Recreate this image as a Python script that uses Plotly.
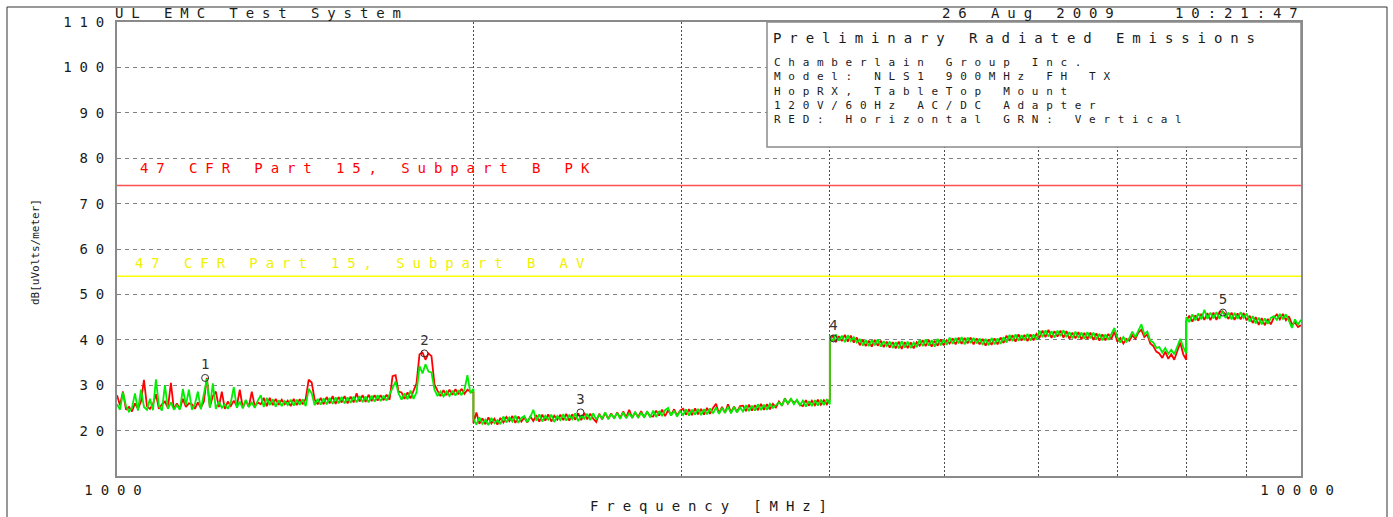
import numpy as np
import plotly.graph_objects as go

# ---------------- data ----------------
SEG_EDGES_MHZ = [1000, 2000, 4000, 8000, 10000]

# Horizontal polarisation (red) per sweep segment, dBuV/m
H_SEG1 = [27.8, 25.6, 28.6, 24.6, 25.2, 24.2, 26.0, 24.8, 26.4, 31.2,
          25.4, 24.8, 25.8, 28.0, 24.8, 25.8, 26.4, 25.0, 30.5, 24.6,
          26.0, 24.8, 27.0, 25.2, 26.0, 25.8, 24.8, 26.2, 25.0, 26.4,
          31.6, 25.2, 27.6, 28.6, 25.2, 28.6, 24.8, 26.4, 25.4, 26.6,
          25.4, 29.0, 25.0, 26.6, 25.2, 28.6, 25.4, 26.2, 25.8, 27.2,
          25.4, 27.2, 25.6, 27.0, 25.7, 26.8, 25.8, 26.6, 25.4, 27.0,
          25.6, 26.9, 25.8, 27.0, 31.2, 30.6, 26.8, 25.8, 27.2, 25.8,
          27.4, 26.0, 27.6, 25.9, 27.4, 26.2, 27.6, 26.0, 27.5, 26.2,
          28.2, 26.4, 27.8, 26.3, 27.9, 26.5, 27.8, 26.6, 27.8, 26.7,
          27.9, 26.8, 32.0, 32.2, 28.6, 28.4, 27.0, 28.4, 27.1, 28.8,
          30.4, 36.8, 37.2, 35.6, 37.0, 36.4, 30.2, 28.8, 27.6, 28.9,
          27.8, 29.0, 27.9, 29.1, 28.0, 29.2, 28.1, 29.0, 28.6, 28.4]
H_SEG2 = [21.6, 24.0, 21.5, 22.7, 21.4, 22.9, 21.6, 22.6, 21.3, 22.8,
          21.8, 23.0, 22.1, 23.2, 21.7, 23.1, 22.0, 22.9, 21.8, 23.1,
          22.1, 23.4, 22.0, 23.5, 22.2, 23.6, 22.0, 23.3, 22.4, 23.5,
          22.3, 23.7, 22.2, 23.6, 22.4, 23.8, 22.3, 23.9, 22.5, 23.7,
          22.6, 21.9, 23.7, 22.5, 23.9, 22.6, 23.8, 22.7, 24.0, 22.8,
          24.2, 22.9, 24.6, 22.8, 24.0, 23.0, 24.3, 22.9, 24.1, 23.2,
          23.1, 24.4, 23.3, 24.6, 23.2, 24.5, 23.4, 24.7, 23.3, 24.4,
          24.8, 23.5, 24.7, 23.4, 24.9, 23.6, 24.8, 23.5, 25.0, 23.7,
          25.0, 25.9, 23.8, 25.2, 23.9, 25.8, 24.0, 25.3, 24.1, 25.4,
          25.5, 24.3, 25.7, 24.4, 25.6, 24.5, 25.9, 24.6, 25.8, 24.7,
          25.9, 25.1, 26.4, 25.5, 27.1, 25.9, 26.9, 26.1, 26.6, 25.7,
          25.4, 26.7, 25.5, 26.6, 25.6, 26.8, 25.7, 26.7, 25.8, 26.9]
H_SEG3 = [39.7, 41.0, 39.5, 40.8, 39.7, 41.1, 39.6, 40.9, 39.4, 40.5,
          38.8, 40.0, 38.6, 39.8, 38.5, 40.0, 38.7, 39.8, 38.4, 39.6,
          38.3, 39.5, 38.1, 39.6, 38.0, 39.5, 38.2, 39.4, 38.1, 39.5,
          38.7, 39.9, 38.6, 40.0, 38.5, 39.8, 38.7, 40.1, 38.8, 39.9,
          39.2, 40.3, 39.0, 40.5, 39.1, 40.4, 39.2, 40.5, 39.0, 40.3,
          39.0, 40.2, 38.7, 40.1, 38.9, 40.3, 39.0, 40.5, 39.3, 40.9,
          39.8, 41.0, 39.6, 41.2, 39.8, 41.1, 39.7, 41.2, 39.9, 41.3,
          40.5, 42.0, 40.6, 42.2, 40.4, 41.9, 40.7, 42.0, 40.5, 41.9,
          40.2, 41.6, 40.3, 41.7, 40.1, 41.5, 40.2, 41.6, 40.0, 41.4,
          39.8, 41.2, 39.9, 41.3, 40.2, 41.8, 39.6, 40.4, 39.2, 40.2,
          39.8, 41.0, 40.2, 41.6, 42.2, 40.6, 41.2, 39.2, 38.6, 37.4,
          37.0, 36.0, 37.4, 35.8, 36.8, 35.6, 37.6, 39.4, 36.8, 35.6]
H_SEG4 = [44.2, 45.3, 44.0, 45.4, 44.2, 45.7, 44.4, 45.9, 44.3, 46.0,
          44.4, 46.1, 46.3, 45.6, 44.6, 46.0, 44.4, 45.8, 44.5, 45.9,
          44.3, 45.3, 43.7, 45.0, 43.3, 44.8, 43.2, 44.6, 43.4, 44.9,
          45.6, 44.5, 45.7, 44.3, 45.2, 43.4, 43.8, 42.8, 43.2]

# Vertical polarisation (green) per sweep segment, dBuV/m
V_SEG1 = [25.8, 24.6, 28.4, 25.4, 24.2, 25.0, 28.2, 24.4, 29.0, 25.2,
          24.6, 27.0, 24.5, 31.3, 25.4, 24.4, 30.0, 24.8, 26.2, 24.6,
          25.6, 24.6, 29.2, 25.6, 29.0, 24.6, 25.8, 28.6, 24.7, 27.8,
          31.4, 25.0, 30.4, 24.8, 26.4, 25.0, 25.8, 24.8, 26.2, 29.6,
          25.0, 26.4, 24.9, 26.8, 25.2, 26.2, 25.0, 26.6, 27.8, 25.2,
          27.2, 25.6, 26.9, 25.3, 26.7, 25.4, 26.5, 25.6, 26.8, 25.5,
          26.8, 25.7, 26.9, 25.4, 29.2, 28.2, 25.6, 27.0, 25.7, 27.1,
          25.8, 27.2, 25.9, 27.3, 26.0, 27.4, 26.0, 27.3, 26.1, 27.5,
          26.2, 27.6, 26.3, 27.5, 26.2, 27.7, 26.4, 27.8, 26.5, 27.7,
          26.6, 28.0, 29.4, 30.8, 28.2, 26.8, 28.2, 26.9, 28.8, 27.0,
          28.4, 34.2, 32.6, 34.6, 33.0, 32.8, 29.0, 27.6, 28.6, 27.5,
          28.6, 27.6, 28.8, 27.7, 28.9, 27.8, 29.0, 32.2, 28.2, 29.2]
V_SEG2 = [22.6, 21.3, 22.9, 21.5, 22.4, 21.2, 22.8, 21.6, 22.3, 21.4,
          23.1, 21.8, 22.9, 22.0, 23.3, 21.7, 22.8, 23.2, 21.9, 23.0,
          24.6, 22.2, 23.6, 22.0, 23.3, 22.4, 23.5, 21.9, 23.2, 22.3,
          23.6, 22.2, 23.4, 22.5, 23.8, 22.1, 23.3, 22.6, 23.7, 22.3,
          23.8, 22.4, 23.5, 22.7, 24.0, 22.5, 23.6, 22.8, 23.9, 22.6,
          24.0, 22.7, 23.8, 22.9, 24.1, 22.8, 23.9, 23.0, 24.2, 22.9,
          24.4, 23.0, 24.3, 23.2, 24.5, 25.0, 23.3, 24.4, 23.1, 24.3,
          23.4, 24.7, 23.3, 24.6, 23.5, 24.8, 23.4, 24.7, 23.6, 24.9,
          23.8, 25.1, 23.7, 25.0, 23.9, 25.3, 23.8, 25.2, 24.0, 25.1,
          24.2, 25.6, 24.3, 25.5, 24.4, 25.8, 24.5, 25.7, 24.6, 25.9,
          25.0, 25.7, 26.2, 25.6, 26.9, 26.0, 27.0, 25.8, 26.8, 25.6,
          26.6, 25.3, 26.5, 25.4, 26.7, 25.5, 26.8, 25.6, 26.9, 25.8]
V_SEG3 = [40.9, 39.6, 41.2, 39.8, 40.9, 39.5, 41.0, 39.7, 40.6, 39.4,
          40.1, 38.7, 40.0, 38.6, 39.9, 38.8, 40.1, 38.5, 39.7, 38.6,
          39.6, 38.2, 39.5, 38.1, 39.7, 38.3, 39.6, 38.2, 39.4, 38.4,
          40.0, 38.6, 40.1, 38.7, 39.9, 38.5, 40.2, 38.8, 40.0, 38.9,
          40.5, 39.1, 40.4, 39.2, 40.6, 39.0, 40.5, 39.3, 40.4, 39.2,
          40.3, 38.9, 40.2, 38.8, 40.4, 39.0, 40.3, 39.1, 40.6, 39.4,
          41.1, 39.7, 41.2, 39.8, 41.0, 39.9, 41.3, 39.8, 41.2, 40.0,
          42.0, 40.6, 42.1, 40.7, 41.9, 40.5, 42.0, 40.8, 42.1, 40.6,
          41.7, 40.3, 41.8, 40.4, 41.6, 40.2, 41.7, 40.3, 41.6, 40.1,
          41.3, 39.9, 41.2, 40.0, 41.4, 42.6, 40.5, 39.4, 40.6, 39.6,
          40.4, 41.8, 40.6, 42.0, 43.4, 41.2, 41.8, 39.8, 39.4, 38.2,
          38.4, 37.2, 38.2, 36.9, 37.8, 36.8, 38.6, 40.2, 38.4, 37.0]
V_SEG4 = [45.0, 43.9, 45.6, 44.3, 45.8, 44.5, 46.6, 44.6, 46.0, 44.7,
          46.1, 44.6, 46.3, 44.8, 46.0, 44.5, 45.9, 44.6, 46.1, 44.8,
          45.8, 44.0, 45.2, 43.6, 44.9, 43.4, 44.7, 43.5, 44.8, 45.2,
          44.4, 45.7, 44.6, 45.6, 44.2, 42.6, 44.5, 43.3, 44.4]

MARKER_FREQ = [1187, 1818, 2463, 4029, 8591]
MARKER_LEVEL = [31.6, 37.0, 24.0, 40.3, 46.0]
MARKER_LABEL = ["1", "2", "3", "4", "5"]

LIMIT_PK = 74
LIMIT_AV = 54
LIMIT_PK_LABEL = "47 CFR Part 15, Subpart B PK"
LIMIT_AV_LABEL = "47 CFR Part 15, Subpart B AV"

Y_TICKS = [20, 30, 40, 50, 60, 70, 80, 90, 100, 110]
Y_TICK_LABELS = ["20", "30", "40", "50", "60", "70", "80", "90", "100", "110"]
X_TICKS = [1000, 10000]
X_TICK_LABELS = ["1000", "10000"]
X_MINOR_GRID = [2000, 3000, 4000, 5000, 6000, 7000, 8000, 9000]

TITLE_LEFT = "UL EMC Test System"
DATE_TEXT = "26 Aug 2009"
TIME_TEXT = "10:21:47"
BOX_TITLE = "Preliminary Radiated Emissions"
BOX_LINES = ["Chamberlain Group Inc.",
             "Model: NLS1 900MHz FH TX",
             "HopRX, TableTop Mount",
             "120V/60Hz AC/DC Adapter",
             "RED: Horizontal GRN: Vertical"]
X_TITLE = "Frequency [MHz]"
Y_TITLE = "dB[uVolts/meter]"

# ---------------- build ----------------
def sweep(segments):
    f, v = [], []
    for k, seg in enumerate(segments):
        f.extend(np.geomspace(SEG_EDGES_MHZ[k], SEG_EDGES_MHZ[k + 1], len(seg)))
        v.extend(seg)
    return f, v

fh, vh = sweep([H_SEG1, H_SEG2, H_SEG3, H_SEG4])
fv, vv = sweep([V_SEG1, V_SEG2, V_SEG3, V_SEG4])

W, H = 1393, 517
L, R, T, B = 117, 1301, 22, 476
FONT = "DejaVu Sans Mono"
INK = "#1a1a1a"


def px_x(x):
    return (x - L) / (R - L)


def px_y(y):
    return (B - y) / (B - T)


def spaced(s, ls):
    return f'<span style="letter-spacing:{ls}px">{s}</span>'


BIG = 14
BIG_LS = 7.9
SMALL = 11
SMALL_LS = 7.7

fig = go.Figure()

fig.add_trace(go.Scatter(x=[SEG_EDGES_MHZ[0], SEG_EDGES_MHZ[-1]], y=[LIMIT_PK, LIMIT_PK],
                         mode="lines", line=dict(color="#ff5050", width=1.5), hoverinfo="skip"))
fig.add_trace(go.Scatter(x=[SEG_EDGES_MHZ[0], SEG_EDGES_MHZ[-1]], y=[LIMIT_AV, LIMIT_AV],
                         mode="lines", line=dict(color="#ffff00", width=1.5), hoverinfo="skip"))
fig.add_trace(go.Scatter(x=fh, y=vh, mode="lines", name="Horizontal",
                         line=dict(color="#ff0000", width=1.8)))
fig.add_trace(go.Scatter(x=fv, y=vv, mode="lines", name="Vertical",
                         line=dict(color="#00ee00", width=1.8)))
fig.add_trace(go.Scatter(x=MARKER_FREQ, y=MARKER_LEVEL, mode="markers+text",
                         text=MARKER_LABEL, textposition="top center",
                         textfont=dict(family=FONT, size=14, color="#333"),
                         marker=dict(symbol="circle-open", size=7,
                                     color="#333", line=dict(width=1, color="#333"))))

fig.update_xaxes(type="log", range=[np.log10(SEG_EDGES_MHZ[0]), np.log10(SEG_EDGES_MHZ[-1])],
                 tickmode="array", tickvals=X_TICKS,
                 ticktext=[spaced(t, BIG_LS) for t in X_TICK_LABELS],
                 tickfont=dict(family=FONT, size=BIG, color=INK),
                 showgrid=False, zeroline=False, ticks="",
                 showline=True, mirror=True, linecolor="#8a8a8a", linewidth=2,
                 minor=dict(tickvals=X_MINOR_GRID, showgrid=True, gridcolor="#4a4a4a",
                            griddash="2px,2px", gridwidth=1, ticks=""))
fig.update_yaxes(range=[10, 110], tickmode="array", tickvals=Y_TICKS,
                 ticktext=[spaced(t, BIG_LS) for t in Y_TICK_LABELS],
                 tickfont=dict(family=FONT, size=BIG, color=INK),
                 showgrid=True, gridcolor="#808080", griddash="4px,4px", gridwidth=1,
                 zeroline=False, ticks="",
                 showline=True, mirror=True, linecolor="#8a8a8a", linewidth=2)

shapes = [
    dict(type="rect", xref="paper", yref="paper",
         x0=px_x(7), x1=px_x(1387), y0=px_y(560), y1=px_y(7),
         line=dict(color="#333", width=1), fillcolor="rgba(0,0,0,0)", layer="below"),
    dict(type="rect", xref="paper", yref="paper",
         x0=px_x(767), x1=1, y0=px_y(147), y1=1,
         line=dict(color="#8a8a8a", width=1.5), fillcolor="white", layer="above"),
]

ann = []


def add_text(text, x, y, xanchor="left", yanchor="middle", size=BIG, color=INK,
             ls=BIG_LS, angle=0, align="left"):
    ann.append(dict(text=spaced(text, ls) if ls else text, xref="paper", yref="paper",
                    x=px_x(x), y=px_y(y), xanchor=xanchor, yanchor=yanchor,
                    showarrow=False, textangle=angle, align=align,
                    font=dict(family=FONT, size=size, color=color)))


add_text(TITLE_LEFT, 113, 13)
add_text(DATE_TEXT, 940, 13)
add_text(TIME_TEXT, 1300 + BIG_LS, 13, xanchor="right")
add_text(BOX_TITLE, 771, 38)
add_text("<br>".join(BOX_LINES), 772, 54, yanchor="top", size=SMALL, ls=SMALL_LS)
add_text(LIMIT_PK_LABEL, 138, 168, color="#ff0000")
add_text(LIMIT_AV_LABEL, 133, 263, color="#f0f000")
add_text(X_TITLE, 709 + BIG_LS / 2, 506, xanchor="center")
add_text(Y_TITLE, 36, 252, xanchor="center", size=11, ls=0, angle=-90)

fig.update_layout(width=W, height=H, autosize=False,
                  margin=dict(l=L, r=W - R, t=T, b=H - B, pad=0),
                  paper_bgcolor="white", plot_bgcolor="white",
                  showlegend=False, hovermode=False,
                  shapes=shapes, annotations=ann,
                  font=dict(family=FONT, size=BIG, color=INK))

fig.write_html("out.html")
